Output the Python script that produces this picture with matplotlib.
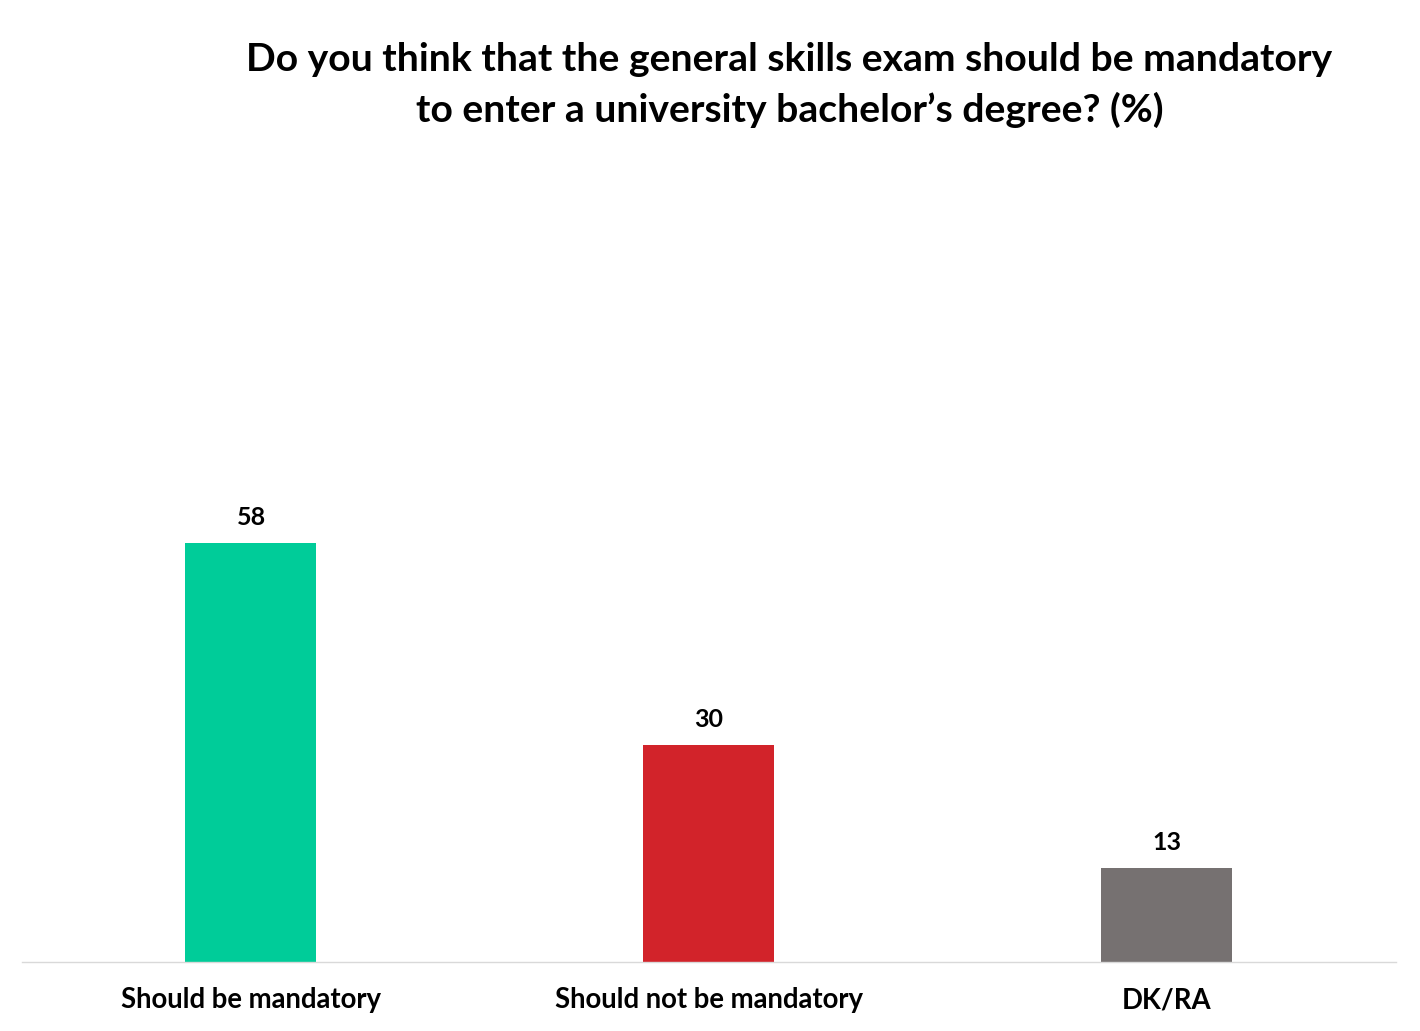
import matplotlib.pyplot as plt

categories = ['Should be mandatory', 'Should not be mandatory', 'DK/RA']
values = [58, 30, 13]
colors = ['#00CC99', '#D2232A', '#767171']

title = ("Do you think that the general skills exam should be mandatory\n"
         "to enter a university bachelor\u2019s degree? (%)")

plt.rcParams['font.family'] = ['Lato', 'DejaVu Sans']

fig = plt.figure(figsize=(14.2, 10.31), dpi=100)
ax = fig.add_axes([0.0155, 0.0669, 0.9675, 0.698])

bars = ax.bar(range(len(categories)), values, width=0.286, color=colors)
for bar, v in zip(bars, values):
    ax.annotate(str(v), (bar.get_x() + bar.get_width() / 2, v),
                xytext=(0, 10), textcoords='offset points',
                ha='center', va='bottom', fontsize=18, fontweight='bold')

ax.set_xlim(-0.5, 2.5)
ax.set_ylim(0, 99.5)
ax.set_xticks(range(len(categories)))
ax.set_xticklabels(categories, fontsize=19.8, fontweight='bold')
ax.tick_params(axis='x', length=0, pad=18)
ax.set_yticks([])
for side in ['top', 'right', 'left']:
    ax.spines[side].set_visible(False)
ax.spines['bottom'].set_color('#D9D9D9')
ax.spines['bottom'].set_linewidth(1)

fig.text(0.556, 0.918, title, ha='center', va='center', fontsize=28.2,
         fontweight='bold', linespacing=1.49)

plt.savefig('out.png', format='png')
plt.close()
